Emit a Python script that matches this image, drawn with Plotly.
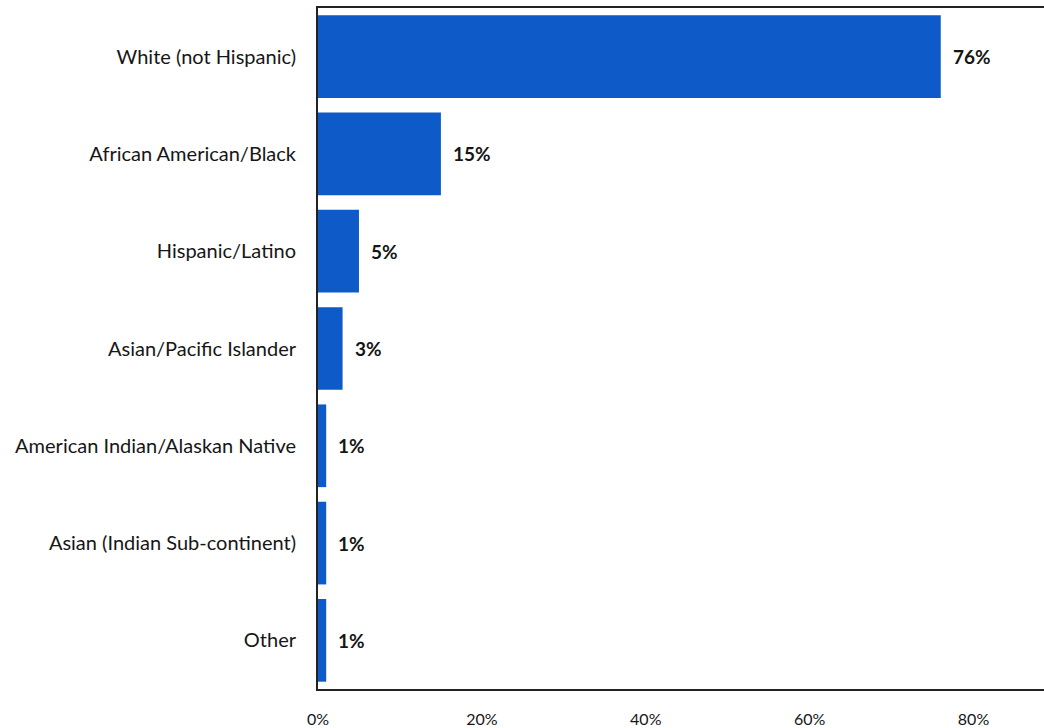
import plotly.graph_objects as go

# Respondent race / ethnicity shares (percent)
categories = [
    "White (not Hispanic)",
    "African American/Black",
    "Hispanic/Latino",
    "Asian/Pacific Islander",
    "American Indian/Alaskan Native",
    "Asian (Indian Sub-continent)",
    "Other",
]
shares = [76, 15, 5, 3, 1, 1, 1]
tick_values = [0, 20, 40, 60, 80]
tick_labels = ["0%", "20%", "40%", "60%", "80%"]

BAR_BLUE = "#0E5AC8"
FONT = "Lato, 'Open Sans', sans-serif"

fig = go.Figure(
    go.Bar(
        y=categories,
        x=shares,
        orientation="h",
        marker=dict(color=BAR_BLUE, line=dict(width=0)),
        hoverinfo="skip",
    )
)

# value labels just past the end of each bar
for cat, val in zip(categories, shares):
    fig.add_annotation(
        x=val, y=cat, text=f"<b>{val}%</b>", showarrow=False,
        xanchor="left", xshift=10,
        font=dict(family=FONT, size=19, color="#161616"),
    )

fig.update_layout(
    width=1044, height=728,
    margin=dict(l=318, r=0, t=8, b=35),
    paper_bgcolor="white", plot_bgcolor="white",
    bargap=0.15,
    showlegend=False,
    font=dict(family=FONT, size=20, color="#161616"),
)
fig.update_xaxes(
    range=[0, 88.6],
    tickvals=tick_values, ticktext=tick_labels,
    tickfont=dict(size=16),
    showgrid=False, zeroline=False,
    showline=True, linecolor="#222", linewidth=2, mirror=True,
    ticks="", ticklabelstandoff=15,
)
fig.update_yaxes(
    categoryorder="array", categoryarray=categories,
    autorange="reversed",
    showgrid=False, zeroline=False,
    showline=True, linecolor="#222", linewidth=2,
    ticks="", ticklabelstandoff=16,
)

fig.write_html("out.html")
